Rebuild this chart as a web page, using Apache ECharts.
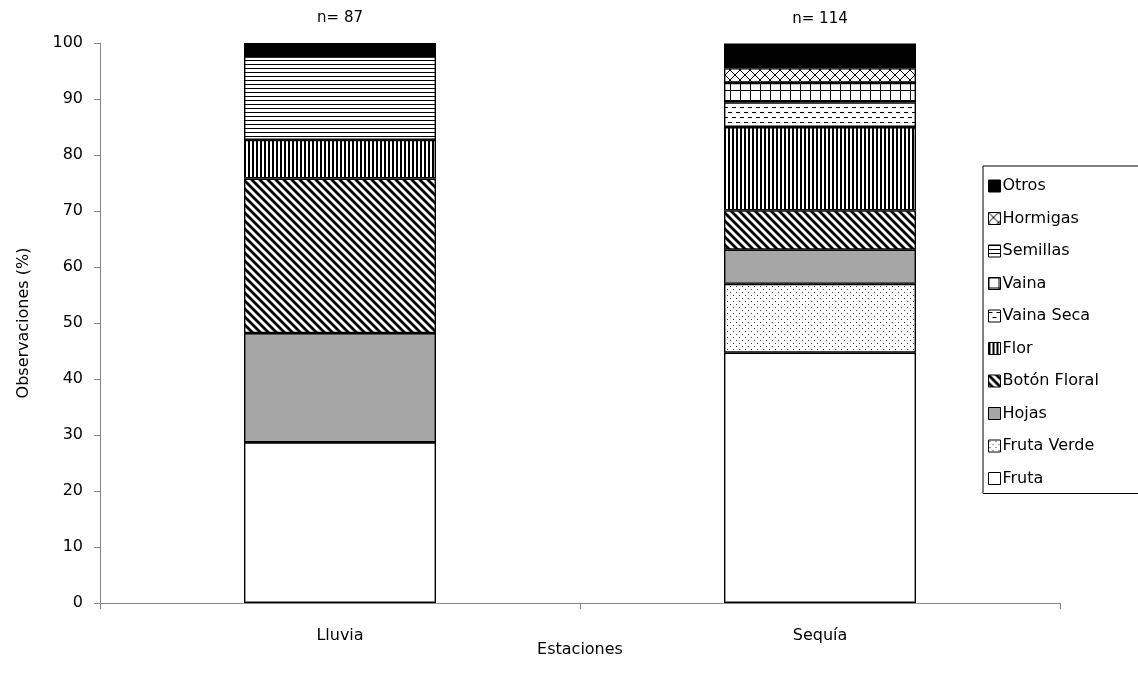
<!DOCTYPE html>
<html>
<head>
<meta charset="utf-8">
<script src="https://cdn.jsdelivr.net/npm/echarts@6/dist/echarts.min.js"></script>
<style>html,body{margin:0;padding:0;background:#fff}#c{width:1138px;height:691px}</style>
</head>
<body>
<div id="c"></div>
<script>
const categories = ['Lluvia', 'Sequía'];
const nLabels = ['n= 87', 'n= 114'];
const fruta = [28.7, 44.7];
const frutaVerde = [0, 12.3];
const hojas = [19.5, 6.1];
const botonFloral = [27.6, 7.0];
const flor = [6.9, 14.9];
const vainaSeca = [0, 4.4];
const vaina = [0, 3.5];
const semillas = [14.9, 0];
const hormigas = [0, 2.6];
const otros = [2.4, 4.4];
const yTicks = [0, 10, 20, 30, 40, 50, 60, 70, 80, 90, 100];

function tile(w, h, draw) {
  const c = document.createElement('canvas');
  c.width = w; c.height = h;
  const g = c.getContext('2d');
  g.fillStyle = '#fff'; g.fillRect(0, 0, w, h);
  g.fillStyle = '#000'; g.strokeStyle = '#000';
  draw(g, w, h);
  return { image: c, repeat: 'repeat' };
}
const P = {
  fruta: '#ffffff',
  frutaVerde: tile(6, 6, g => { g.fillStyle = '#444'; g.fillRect(1, 1, 1, 1); g.fillRect(4, 4, 1, 1); }),
  hojas: '#a6a6a6',
  boton: tile(8, 8, g => {
    g.lineWidth = 2.8;
    g.beginPath();
    g.moveTo(-2, -2); g.lineTo(10, 10);
    g.moveTo(-10, -2); g.lineTo(2, 10);
    g.moveTo(6, -2); g.lineTo(18, 10);
    g.stroke();
  }),
  flor: tile(4, 4, g => { g.fillRect(0, 0, 2, 4); }),
  vainaSeca: tile(8, 10, g => { g.fillRect(0, 2, 4, 1); g.fillRect(4, 7, 4, 1); }),
  vaina: tile(10, 10, g => { g.fillRect(0, 0, 10, 1); g.fillRect(0, 0, 1, 10); }),
  semillas: tile(4, 4, g => { g.fillRect(0, 0, 4, 1); }),
  hormigas: tile(10, 10, g => {
    g.lineWidth = 1;
    g.beginPath();
    g.moveTo(0, 0); g.lineTo(10, 10);
    g.moveTo(10, 0); g.lineTo(0, 10);
    g.stroke();
  }),
  otros: '#000000'
};

const FONT = 'DejaVu Sans';
const defs = [
  ['Fruta', fruta, P.fruta],
  ['Fruta Verde', frutaVerde, P.frutaVerde],
  ['Hojas', hojas, P.hojas],
  ['Botón Floral', botonFloral, P.boton],
  ['Flor', flor, P.flor],
  ['Vaina Seca', vainaSeca, P.vainaSeca],
  ['Vaina', vaina, P.vaina],
  ['Semillas', semillas, P.semillas],
  ['Hormigas', hormigas, P.hormigas],
  ['Otros', otros, P.otros]
];
const series = defs.map((d, i) => {
  const s = {
    name: d[0], type: 'bar', stack: 'all', barWidth: '40%',
    data: d[1],
    itemStyle: { color: d[2], borderColor: '#000', borderWidth: 1.4 },
    emphasis: { disabled: true },
    animation: false
  };
  if (i === defs.length - 1) {
    s.label = {
      show: true, position: 'top', distance: 17,
      formatter: p => nLabels[p.dataIndex],
      color: '#000', fontFamily: FONT, fontSize: 15
    };
  }
  return s;
});

const chart = echarts.init(document.getElementById('c'), null, { renderer: 'canvas' });
chart.setOption({
  animation: false,
  backgroundColor: '#fff',
  grid: { left: 100, right: 78, top: 43, bottom: 88, containLabel: false },
  xAxis: {
    type: 'category', data: categories,
    name: 'Estaciones', nameLocation: 'middle', nameGap: 39, nameMoveOverlap: false,
    nameTextStyle: { color: '#000', fontFamily: FONT, fontSize: 16 },
    axisLine: { lineStyle: { color: '#868686', width: 1 } },
    axisTick: { show: true, length: 6, lineStyle: { color: '#868686' } },
    axisLabel: { color: '#000', fontFamily: FONT, fontSize: 16, margin: 25 }
  },
  yAxis: {
    type: 'value', min: 0, max: 100, interval: 10,
    name: 'Observaciones (%)', nameLocation: 'middle', nameGap: 68, nameMoveOverlap: false,
    nameTextStyle: { color: '#000', fontFamily: FONT, fontSize: 16 },
    axisLine: { show: true, lineStyle: { color: '#868686', width: 1 } },
    axisTick: { show: true, length: 6, lineStyle: { color: '#868686' } },
    axisLabel: { color: '#000', fontFamily: FONT, fontSize: 16, margin: 17,
      formatter: v => yTicks.includes(v) ? String(v) : '' },
    splitLine: { show: false }
  },
  legend: {
    orient: 'vertical', left: 983, top: 166,
    data: defs.map(d => d[0]).reverse(),
    icon: 'rect',
    itemWidth: 12, itemHeight: 12, itemGap: 12.5,
    padding: [10, 60, 5, 5],
    borderColor: '#000', borderWidth: 1,
    textStyle: { color: '#000', fontFamily: FONT, fontSize: 16, lineHeight: 20, padding: [0, 0, 0, -3] },
    itemStyle: { borderColor: '#000', borderWidth: 1 },
    selectedMode: false
  },
  series: series
});
</script>
</body>
</html>
